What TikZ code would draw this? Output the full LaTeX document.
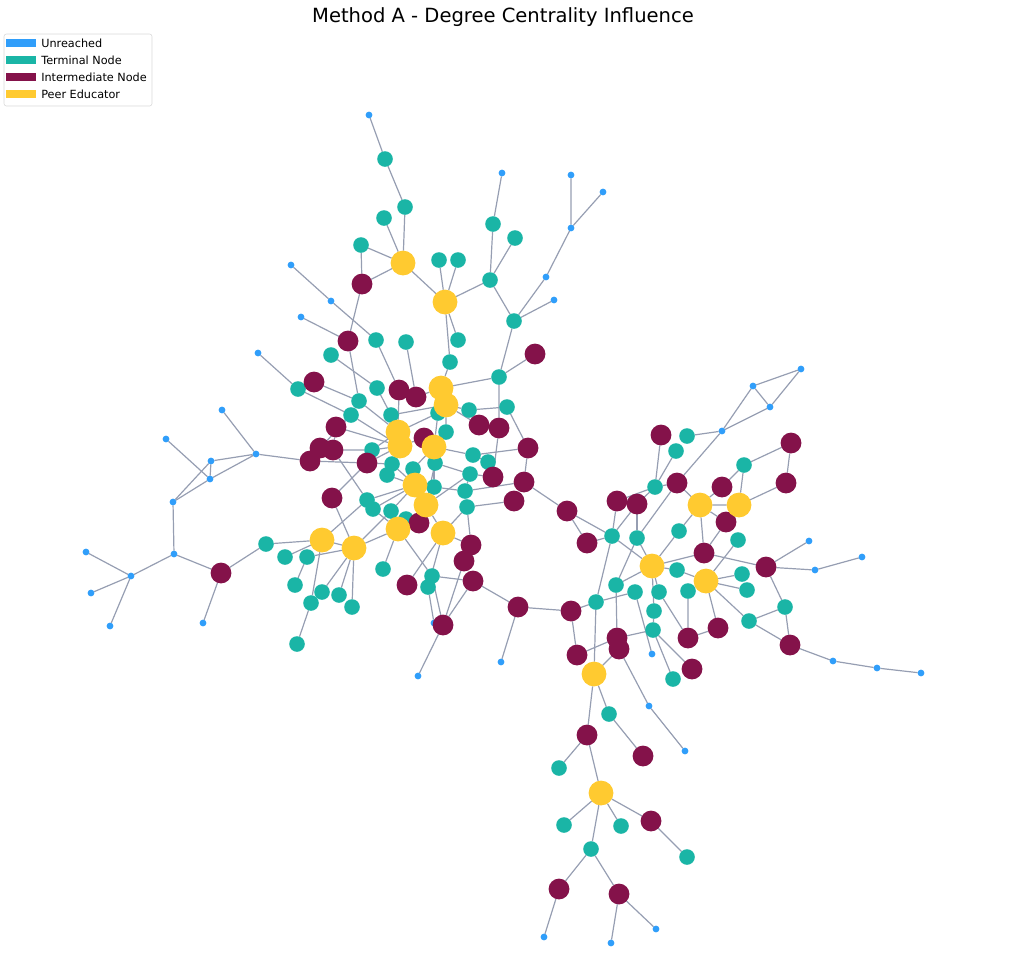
\documentclass[tikz,border=0pt]{standalone}
\usepackage{fontspec}
\setmainfont{DejaVu Sans}
\usetikzlibrary{backgrounds}
\definecolor{unreachedblue}{RGB}{48,158,250}
\definecolor{terminalteal}{RGB}{26,181,166}
\definecolor{intermaroon}{RGB}{132,18,74}
\definecolor{peeryellow}{RGB}{255,202,48}
\definecolor{linkgray}{RGB}{150,158,178}

\begin{document}
\begin{tikzpicture}[
    x=0.25mm, y=-0.25mm,
    dot/.style={circle, inner sep=0pt, outer sep=0pt},
    peer/.style={dot, fill=peeryellow, minimum size=6.2mm},
    inter/.style={dot, fill=intermaroon, minimum size=5.2mm},
    term/.style={dot, fill=terminalteal, minimum size=3.9mm},
    unr/.style={dot, fill=unreachedblue, minimum size=1.7mm},
    link/.style={draw=linkgray, line width=0.3mm},
    key/.style={minimum width=7.5mm, minimum height=1.8mm, inner sep=0pt},
    keytext/.style={anchor=west, inner sep=0pt, font=\fontsize{8}{10}\selectfont}
]
\useasboundingbox (0,0) rectangle (1024,964);

% Title and legend
\node[font=\fontsize{13.9}{16}\selectfont] (title) at (503,17) {Method A - Degree Centrality Influence};
\node[draw=black!15, fill=white, rounded corners=0.6mm, minimum width=37mm, minimum height=18mm] (legend) at (78,70) {};
\node[key, fill=unreachedblue] (keyU) at (21,43) {};
\node[key, fill=terminalteal] (keyT) at (21,60) {};
\node[key, fill=intermaroon] (keyI) at (21,77) {};
\node[key, fill=peeryellow] (keyP) at (21,94) {};
\node[keytext] (keyUtext) at (41,43) {Unreached};
\node[keytext] (keyTtext) at (41,60) {Terminal Node};
\node[keytext] (keyItext) at (41,77) {Intermediate Node};
\node[keytext] (keyPtext) at (41,94) {Peer Educator};

% Unreached nodes
\node[unr] (u1) at (369,115) {};
\node[unr] (u2) at (502,173) {};
\node[unr] (u3) at (571,175) {};
\node[unr] (u4) at (603,192) {};
\node[unr] (u5) at (571,228) {};
\node[unr] (u6) at (546,277) {};
\node[unr] (u7) at (554,300) {};
\node[unr] (u8) at (291,265) {};
\node[unr] (u9) at (331,301) {};
\node[unr] (u10) at (301,317) {};
\node[unr] (u11) at (258,353) {};
\node[unr] (u12) at (222,410) {};
\node[unr] (u13) at (166,439) {};
\node[unr] (u14) at (211,461) {};
\node[unr] (u15) at (256,454) {};
\node[unr] (u16) at (210,479) {};
\node[unr] (u17) at (173,502) {};
\node[unr] (u18) at (174,554) {};
\node[unr] (u19) at (86,552) {};
\node[unr] (u20) at (131,576) {};
\node[unr] (u21) at (91,593) {};
\node[unr] (u22) at (110,626) {};
\node[unr] (u23) at (203,623) {};
\node[unr] (u24) at (434,623) {};
\node[unr] (u25) at (418,676) {};
\node[unr] (u26) at (501,662) {};
\node[unr] (u27) at (652,654) {};
\node[unr] (u28) at (649,706) {};
\node[unr] (u29) at (685,751) {};
\node[unr] (u30) at (544,937) {};
\node[unr] (u31) at (611,943) {};
\node[unr] (u32) at (656,929) {};
\node[unr] (u33) at (801,369) {};
\node[unr] (u34) at (753,386) {};
\node[unr] (u35) at (770,407) {};
\node[unr] (u36) at (722,431) {};
\node[unr] (u37) at (809,541) {};
\node[unr] (u38) at (815,570) {};
\node[unr] (u39) at (862,557) {};
\node[unr] (u40) at (833,661) {};
\node[unr] (u41) at (877,668) {};
\node[unr] (u42) at (921,673) {};

% Terminal nodes
\node[term] (t1) at (385,159) {};
\node[term] (t2) at (405,207) {};
\node[term] (t3) at (384,218) {};
\node[term] (t4) at (361,245) {};
\node[term] (t5) at (439,260) {};
\node[term] (t6) at (458,260) {};
\node[term] (t7) at (493,224) {};
\node[term] (t8) at (515,238) {};
\node[term] (t9) at (490,280) {};
\node[term] (t10) at (514,321) {};
\node[term] (t11) at (376,340) {};
\node[term] (t12) at (406,342) {};
\node[term] (t13) at (458,340) {};
\node[term] (t14) at (331,355) {};
\node[term] (t15) at (450,362) {};
\node[term] (t16) at (499,377) {};
\node[term] (t17) at (298,389) {};
\node[term] (t18) at (377,388) {};
\node[term] (t19) at (359,401) {};
\node[term] (t20) at (469,410) {};
\node[term] (t21) at (507,407) {};
\node[term] (t22) at (351,415) {};
\node[term] (t23) at (391,415) {};
\node[term] (t24) at (438,413) {};
\node[term] (t25) at (446,432) {};
\node[term] (t26) at (372,450) {};
\node[term] (t27) at (473,455) {};
\node[term] (t28) at (488,462) {};
\node[term] (t29) at (392,464) {};
\node[term] (t30) at (435,463) {};
\node[term] (t31) at (413,469) {};
\node[term] (t32) at (387,475) {};
\node[term] (t33) at (470,474) {};
\node[term] (t34) at (434,487) {};
\node[term] (t35) at (465,491) {};
\node[term] (t36) at (367,500) {};
\node[term] (t37) at (373,509) {};
\node[term] (t38) at (391,511) {};
\node[term] (t39) at (467,507) {};
\node[term] (t40) at (406,519) {};
\node[term] (t41) at (266,544) {};
\node[term] (t42) at (285,557) {};
\node[term] (t43) at (307,557) {};
\node[term] (t44) at (383,569) {};
\node[term] (t45) at (432,576) {};
\node[term] (t46) at (428,587) {};
\node[term] (t47) at (295,585) {};
\node[term] (t48) at (322,592) {};
\node[term] (t49) at (339,595) {};
\node[term] (t50) at (311,603) {};
\node[term] (t51) at (352,607) {};
\node[term] (t52) at (297,644) {};
\node[term] (t53) at (687,436) {};
\node[term] (t54) at (676,451) {};
\node[term] (t55) at (744,465) {};
\node[term] (t56) at (655,487) {};
\node[term] (t57) at (679,531) {};
\node[term] (t58) at (612,536) {};
\node[term] (t59) at (637,538) {};
\node[term] (t60) at (738,540) {};
\node[term] (t61) at (677,570) {};
\node[term] (t62) at (742,574) {};
\node[term] (t63) at (616,585) {};
\node[term] (t64) at (747,590) {};
\node[term] (t65) at (635,592) {};
\node[term] (t66) at (659,592) {};
\node[term] (t67) at (688,591) {};
\node[term] (t68) at (596,602) {};
\node[term] (t69) at (785,607) {};
\node[term] (t70) at (654,611) {};
\node[term] (t71) at (749,621) {};
\node[term] (t72) at (653,630) {};
\node[term] (t73) at (673,679) {};
\node[term] (t74) at (609,714) {};
\node[term] (t75) at (559,768) {};
\node[term] (t76) at (564,825) {};
\node[term] (t77) at (621,826) {};
\node[term] (t78) at (591,849) {};
\node[term] (t79) at (687,857) {};

% Intermediate nodes
\node[inter] (m1) at (362,284) {};
\node[inter] (m2) at (348,341) {};
\node[inter] (m3) at (535,354) {};
\node[inter] (m4) at (314,382) {};
\node[inter] (m5) at (399,390) {};
\node[inter] (m6) at (416,397) {};
\node[inter] (m7) at (336,427) {};
\node[inter] (m8) at (424,438) {};
\node[inter] (m9) at (479,425) {};
\node[inter] (m10) at (499,428) {};
\node[inter] (m11) at (320,448) {};
\node[inter] (m12) at (333,450) {};
\node[inter] (m13) at (310,461) {};
\node[inter] (m14) at (367,463) {};
\node[inter] (m15) at (528,448) {};
\node[inter] (m16) at (493,477) {};
\node[inter] (m17) at (524,482) {};
\node[inter] (m18) at (332,498) {};
\node[inter] (m19) at (514,501) {};
\node[inter] (m20) at (419,523) {};
\node[inter] (m21) at (567,511) {};
\node[inter] (m22) at (471,545) {};
\node[inter] (m23) at (464,561) {};
\node[inter] (m24) at (587,543) {};
\node[inter] (m25) at (407,585) {};
\node[inter] (m26) at (473,581) {};
\node[inter] (m27) at (443,625) {};
\node[inter] (m28) at (518,607) {};
\node[inter] (m29) at (571,611) {};
\node[inter] (m30) at (577,655) {};
\node[inter] (m31) at (617,638) {};
\node[inter] (m32) at (619,649) {};
\node[inter] (m33) at (221,573) {};
\node[inter] (m34) at (661,435) {};
\node[inter] (m35) at (677,483) {};
\node[inter] (m36) at (617,501) {};
\node[inter] (m37) at (637,504) {};
\node[inter] (m38) at (722,487) {};
\node[inter] (m39) at (791,443) {};
\node[inter] (m40) at (786,483) {};
\node[inter] (m41) at (726,522) {};
\node[inter] (m42) at (704,553) {};
\node[inter] (m43) at (766,567) {};
\node[inter] (m44) at (688,638) {};
\node[inter] (m45) at (718,628) {};
\node[inter] (m46) at (692,669) {};
\node[inter] (m47) at (790,645) {};
\node[inter] (m48) at (587,735) {};
\node[inter] (m49) at (643,756) {};
\node[inter] (m50) at (651,821) {};
\node[inter] (m51) at (559,889) {};
\node[inter] (m52) at (619,894) {};

% Peer educators
\node[peer] (p1) at (403,263) {};
\node[peer] (p2) at (445,302) {};
\node[peer] (p3) at (441,388) {};
\node[peer] (p4) at (446,405) {};
\node[peer] (p5) at (398,432) {};
\node[peer] (p6) at (400,446) {};
\node[peer] (p7) at (434,447) {};
\node[peer] (p8) at (415,485) {};
\node[peer] (p9) at (426,505) {};
\node[peer] (p10) at (398,529) {};
\node[peer] (p11) at (443,533) {};
\node[peer] (p12) at (322,540) {};
\node[peer] (p13) at (354,548) {};
\node[peer] (p14) at (700,505) {};
\node[peer] (p15) at (739,505) {};
\node[peer] (p16) at (652,566) {};
\node[peer] (p17) at (706,581) {};
\node[peer] (p18) at (594,674) {};
\node[peer] (p19) at (601,793) {};

% Links, behind the nodes
\begin{scope}[on background layer]
% upper branch
\draw[link] (u1) -- (t1) -- (t2) -- (p1);
\draw[link] (t3) -- (p1) -- (t4) -- (m1) -- (p1);
\draw[link] (t5) -- (p2) -- (t6);
\draw[link] (p1) -- (p2) -- (t9) -- (t7) -- (u2);
\draw[link] (t9) -- (t8);
\draw[link] (t9) -- (t10) -- (u6) -- (u5) -- (u3);
\draw[link] (u5) -- (u4);
\draw[link] (t10) -- (u7);
\draw[link] (t10) -- (t16) -- (m3);
\draw[link] (p2) -- (t13);
\draw[link] (p2) -- (t15) -- (p3);
\draw[link] (m1) -- (m2) -- (u10);
\draw[link] (m2) -- (t19);
\draw[link] (u8) -- (u9) -- (t11) -- (m5);
\draw[link] (t12) -- (m6);
\draw[link] (t14) -- (t18) -- (t23);
\draw[link] (u11) -- (t17) -- (t22);
\draw[link] (m4) -- (t19) -- (t22);
% left core
\draw[link] (t19) -- (p5);
\draw[link] (t22) -- (p6);
\draw[link] (t23) -- (p5);
\draw[link] (m5) -- (m6) -- (p3) -- (p4);
\draw[link] (m5) -- (p5) -- (p6);
\draw[link] (p4) -- (t24) -- (p7);
\draw[link] (p4) -- (t25) -- (p7);
\draw[link] (p6) -- (m8) -- (p7);
\draw[link] (m7) -- (p6);
\draw[link] (m7) -- (t22);
\draw[link] (m7) -- (m12);
\draw[link] (m13) -- (u15);
\draw[link] (m13) -- (m11) -- (m12) -- (t26) -- (p6);
\draw[link] (m11) -- (t22);
\draw[link] (m13) -- (m14) -- (p6);
\draw[link] (m14) -- (t29) -- (t32) -- (p8);
\draw[link] (t29) -- (p8);
\draw[link] (t31) -- (p8);
\draw[link] (p7) -- (t31);
\draw[link] (p8) -- (p9) -- (t34);
\draw[link] (t30) -- (p7);
\draw[link] (t30) -- (p9);
\draw[link] (p8) -- (t38);
\draw[link] (p8) -- (t37);
\draw[link] (t36) -- (p8);
\draw[link] (m14) -- (m18) -- (p13);
\draw[link] (m12) -- (t36);
\draw[link] (p12) -- (t36) -- (t37) -- (p10);
\draw[link] (p13) -- (t38);
\draw[link] (p13) -- (p10) -- (t40) -- (m20) -- (p9);
\draw[link] (m20) -- (p10);
\draw[link] (p9) -- (p11) -- (t39) -- (m22) -- (m23);
\draw[link] (p11) -- (m22);
\draw[link] (t26) -- (p5);
\draw[link] (t32) -- (p6);
\draw[link] (t23) -- (p4);
\draw[link] (t24) -- (p5);
\draw[link] (t34) -- (p7);
% right side of the left core
\draw[link] (p3) -- (t16) -- (m10) -- (m9) -- (p4);
\draw[link] (p4) -- (t20) -- (t21) -- (m15);
\draw[link] (t20) -- (m9);
\draw[link] (m15) -- (t27);
\draw[link] (m15) -- (m17);
\draw[link] (m10) -- (m16);
\draw[link] (t27) -- (t28) -- (m16) -- (t33) -- (t35) -- (m17);
\draw[link] (t39) -- (m19);
\draw[link] (p7) -- (t27);
\draw[link] (p9) -- (t33);
\draw[link] (t35) -- (t39);
\draw[link] (t30) -- (t33);
\draw[link] (t34) -- (t35);
% lower part of the left core
\draw[link] (p10) -- (t44);
\draw[link] (p10) -- (t45) -- (m26);
\draw[link] (p11) -- (t46) -- (u24);
\draw[link] (p11) -- (m25);
\draw[link] (t45) -- (m27) -- (u25);
\draw[link] (m26) -- (m27);
\draw[link] (m23) -- (m27);
\draw[link] (m26) -- (m28) -- (m29) -- (t68);
\draw[link] (m28) -- (u26);
\draw[link] (m29) -- (m30);
% far left
\draw[link] (u12) -- (u15);
\draw[link] (u15) -- (u14) -- (u16) -- (u15);
\draw[link] (u13) -- (u16);
\draw[link] (u17) -- (u14);
\draw[link] (u17) -- (u16);
\draw[link] (u17) -- (u18) -- (u20) -- (u19);
\draw[link] (u20) -- (u21);
\draw[link] (u20) -- (u22);
\draw[link] (u18) -- (m33) -- (u23);
\draw[link] (m33) -- (t41) -- (p12) -- (t42);
\draw[link] (p12) -- (p13);
\draw[link] (p12) -- (t50) -- (t52);
\draw[link] (t43) -- (p13);
\draw[link] (t43) -- (t47);
\draw[link] (p13) -- (t48);
\draw[link] (p13) -- (t49);
\draw[link] (p13) -- (t51);
% bridge
\draw[link] (m17) -- (m21) -- (m24) -- (t58) -- (m21);
\draw[link] (t58) -- (t68) -- (p18);
\draw[link] (t68) -- (t65);
% right cluster
\draw[link] (u33) -- (u34) -- (u35) -- (u33);
\draw[link] (u34) -- (u36) -- (u35);
\draw[link] (u36) -- (t53);
\draw[link] (u36) -- (m35);
\draw[link] (m34) -- (t56) -- (t54);
\draw[link] (t56) -- (m35) -- (p14) -- (p15);
\draw[link] (p14) -- (m38) -- (t55) -- (m39) -- (m40) -- (p15);
\draw[link] (t55) -- (p15);
\draw[link] (p14) -- (m41) -- (p15);
\draw[link] (p14) -- (t57) -- (p16);
\draw[link] (p14) -- (m42) -- (m41);
\draw[link] (t60) -- (p17);
\draw[link] (m42) -- (m43) -- (u37);
\draw[link] (m43) -- (u38) -- (u39);
\draw[link] (m43) -- (t69) -- (m47) -- (u40) -- (u41) -- (u42);
\draw[link] (t69) -- (t71) -- (p17);
\draw[link] (t71) -- (m47);
\draw[link] (m36) -- (t58);
\draw[link] (m37) -- (t58);
\draw[link] (m37) -- (t59);
\draw[link] (t56) -- (m36);
\draw[link] (t56) -- (m37);
\draw[link] (m35) -- (t59);
\draw[link] (p16) -- (t59);
\draw[link] (p16) -- (t58);
\draw[link] (p16) -- (t61) -- (p17);
\draw[link] (p16) -- (m42);
\draw[link] (p16) -- (t63) -- (m31);
\draw[link] (p16) -- (t66) -- (m44);
\draw[link] (p16) -- (t70) -- (t72) -- (t73);
\draw[link] (t72) -- (m46);
\draw[link] (t72) -- (m31);
\draw[link] (p17) -- (t62);
\draw[link] (p17) -- (t64);
\draw[link] (p17) -- (m45) -- (m44) -- (t67) -- (p17);
\draw[link] (t63) -- (t59);
\draw[link] (t65) -- (u27);
\draw[link] (m30) -- (m31) -- (m32) -- (p18);
\draw[link] (m32) -- (u28) -- (u29);
% lower branch
\draw[link] (p18) -- (t74) -- (m49);
\draw[link] (p18) -- (m48) -- (t75);
\draw[link] (m48) -- (p19) -- (t76);
\draw[link] (p19) -- (t77);
\draw[link] (p19) -- (m50) -- (t79);
\draw[link] (p19) -- (t78) -- (m51) -- (u30);
\draw[link] (t78) -- (m52) -- (u31);
\draw[link] (m52) -- (u32);
\end{scope}

\end{tikzpicture}
\end{document}
